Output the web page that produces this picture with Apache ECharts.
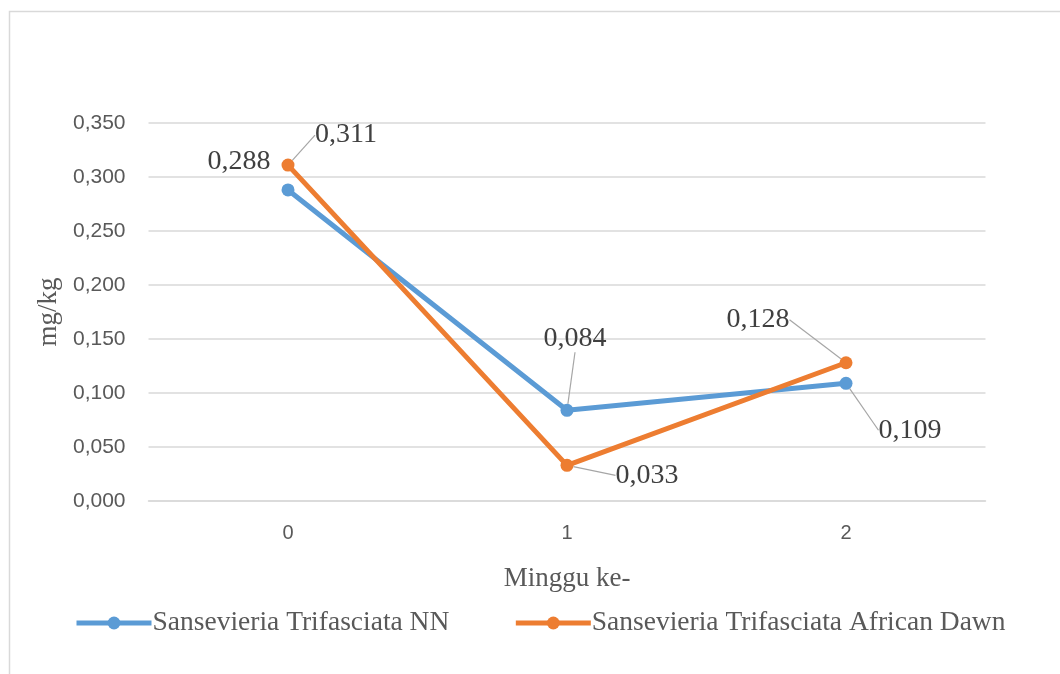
<!DOCTYPE html>
<html>
<head>
<meta charset="utf-8">
<script src="https://cdn.jsdelivr.net/npm/echarts@6/dist/echarts.min.js"></script>
<style>
  html, body { margin: 0; padding: 0; background: #fff; }
  #chart { width: 1060px; height: 674px; }
</style>
</head>
<body>
<div id="chart"></div>
<script>
const categories = ['0', '1', '2'];
const seriesNames = ['Sansevieria Trifasciata NN', 'Sansevieria Trifasciata African Dawn'];
const valuesNN = [0.288, 0.084, 0.109];
const valuesAD = [0.311, 0.033, 0.128];
const yTicks = { min: 0, max: 0.35, interval: 0.05 };
const xAxisName = 'Minggu ke-';
const yAxisName = 'mg/kg';

// label offsets (dx, dy) from each point, per series
const labelOffsets = [
  [[-49, -28], [8, -72], [64, 47]],
  [[58, -30], [80, 10], [-88, -43]]
];
const leaderShown = [
  [false, true, true],
  [true, true, true]
];

const fmt = v => v.toFixed(3).replace('.', ',');
const serif = '"Liberation Serif", "Times New Roman", serif';
const sans = '"Liberation Sans", Arial, sans-serif';

function mkData(vals, si) {
  return vals.map((v, i) => ({
    value: v,
    labelLine: { show: leaderShown[si][i] }
  }));
}

const chart = echarts.init(document.getElementById('chart'), null, { renderer: 'canvas' });
const colors = ['#5B9BD5', '#ED7D31'];

function mkSeries(name, vals, si) {
  return {
    name: name,
    type: 'line',
    data: mkData(vals, si),
    symbol: 'circle',
    symbolSize: 13,
    lineStyle: { width: 5, color: colors[si] },
    itemStyle: { color: colors[si] },
    z: 2 + si,
    label: {
      show: true,
      position: 'inside',
      align: 'center',
      verticalAlign: 'middle',
      formatter: p => fmt(p.value),
      fontFamily: serif,
      fontSize: 28,
      color: '#404040'
    },
    labelLine: {
      show: true,
      lineStyle: { color: '#a6a6a6', width: 1.2 }
    },
    labelLayout: function (params) {
      const o = labelOffsets[si][params.dataIndex];
      return { dx: o[0], dy: o[1] };
    },
    emphasis: { disabled: true },
    animation: false
  };
}

chart.setOption({
  animation: false,
  color: colors,
  graphic: [{
    type: 'rect',
    shape: { x: 9.5, y: 11.5, width: 1200, height: 800 },
    style: { fill: 'none', stroke: '#d9d9d9', lineWidth: 1.5 },
    silent: true, z: -1
  }],
  grid: { left: 148.5, right: 74.5, top: 123, bottom: 173 },
  legend: {
    data: seriesNames,
    left: 69,
    top: 604,
    itemWidth: 75,
    itemHeight: 16,
    itemGap: 64,
    lineStyle: { width: 5 },
    textStyle: { fontFamily: serif, fontSize: 27.5, color: '#595959', padding: [0, 0, 0, -4] }
  },
  xAxis: {
    type: 'category',
    data: categories,
    boundaryGap: true,
    name: xAxisName,
    nameLocation: 'middle',
    nameGap: 64,
    nameTextStyle: { fontFamily: serif, fontSize: 27, color: '#595959' },
    axisLine: { show: true, lineStyle: { color: '#d9d9d9', width: 1.5 } },
    axisTick: { show: false },
    axisLabel: { fontFamily: sans, fontSize: 20, color: '#595959', margin: 22 }
  },
  yAxis: {
    type: 'value',
    min: yTicks.min,
    max: yTicks.max,
    interval: yTicks.interval,
    name: yAxisName,
    nameLocation: 'middle',
    nameGap: 86,
    nameRotate: 90,
    nameTextStyle: { fontFamily: serif, fontSize: 27, color: '#595959' },
    axisLine: { show: false },
    axisTick: { show: false },
    splitLine: { lineStyle: { color: '#d9d9d9', width: 1.5 } },
    axisLabel: { fontFamily: sans, fontSize: 21, color: '#595959', margin: 23, formatter: v => fmt(v) }
  },
  series: [
    mkSeries(seriesNames[0], valuesNN, 0),
    mkSeries(seriesNames[1], valuesAD, 1)
  ]
});
</script>
</body>
</html>
